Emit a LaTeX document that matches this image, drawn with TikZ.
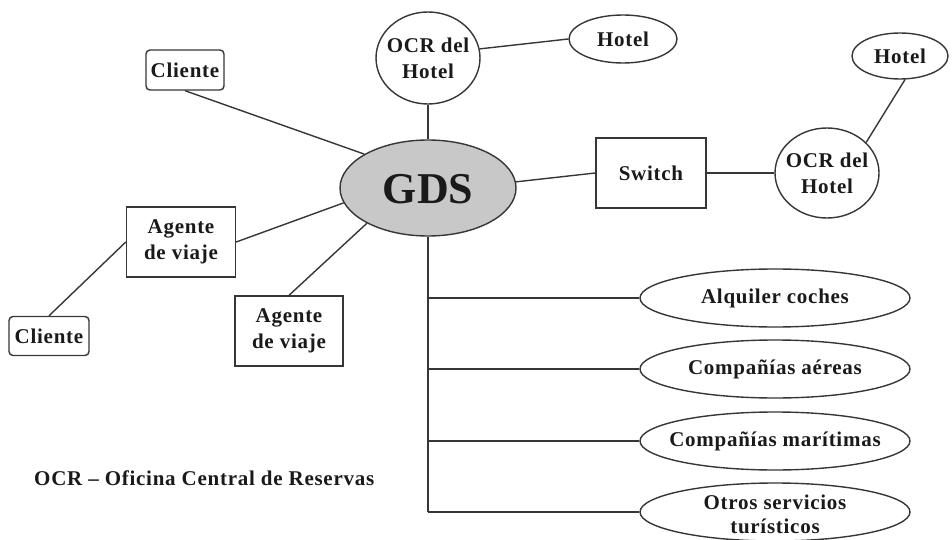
\documentclass[tikz,border=0pt]{standalone}
\usepackage{fontspec}
\setmainfont{Liberation Serif}
\newfontfamily\lblfont{Liberation Serif}[LetterSpace=3.5]
\usetikzlibrary{shapes.geometric,calc}
\definecolor{linec}{HTML}{363636}
\definecolor{gdsfill}{HTML}{C8C8C8}
\definecolor{textc}{HTML}{1A1A1A}
\begin{document}
\begin{tikzpicture}[x=1pt,y=-1pt,
  every node/.style={text=textc},
  lbl/.style={font=\lblfont\bfseries\fontsize{21}{26}\selectfont, align=center, inner sep=0pt},
  boxnode/.style={lbl, draw=linec, line width=1.4pt, rectangle},
  rbox/.style={boxnode, rounded corners=4pt},
  ell/.style={draw=linec, line width=1.4pt, ellipse, inner sep=0pt},
  conn/.style={draw=linec, line width=1.4pt}]
\useasboundingbox (0,0) rectangle (952,540);
\clip (0,0) rectangle (952,540);

\node[ell, fill=gdsfill, minimum width=176pt, minimum height=96pt] (gds) at (428,188) {};
\node[lbl, font=\bfseries\fontsize{44}{48}\selectfont] (gdst) at (428,189) {GDS};

\node[rbox, minimum width=78pt, minimum height=40pt] (cli1) at (185,70) {Cliente};
\node[ell, minimum width=104pt, minimum height=92pt] (ocr1) at (428,58) {};
\node[lbl] (ocr1t) at (ocr1) {OCR del\\Hotel};
\node[ell, minimum width=108pt, minimum height=48pt] (hot1) at (623,39) {};
\node[lbl] (hot1t) at (hot1) {Hotel};

\node[boxnode, minimum width=110pt, minimum height=70pt] (sw) at (651,173) {Switch};
\node[ell, minimum width=104pt, minimum height=90pt] (ocr2) at (827,173) {};
\node[lbl] (ocr2t) at (ocr2) {OCR del\\Hotel};
\node[ell, minimum width=96pt, minimum height=46pt] (hot2) at (900,56) {};
\node[lbl] (hot2t) at (hot2) {Hotel};

\node[boxnode, minimum width=109pt, minimum height=70pt] (ag1) at (181,242) {Agente\\de viaje};
\node[rbox, minimum width=80pt, minimum height=39pt] (cli2) at (49,336) {Cliente};
\node[boxnode, minimum width=108pt, minimum height=70pt] (ag2) at (289,331) {Agente\\de viaje};

\node[ell, minimum width=270pt, minimum height=58pt] (s1) at (775,298) {};
\node[lbl] (s1t) at (s1) {Alquiler coches};
\node[ell, minimum width=270pt, minimum height=58pt] (s2) at (775,369) {};
\node[lbl] (s2t) at (s2) {Compañías aéreas};
\node[ell, minimum width=270pt, minimum height=58pt] (s3) at (775,441) {};
\node[lbl] (s3t) at (s3) {Compañías marítimas};
\node[ell, minimum width=270pt, minimum height=58pt] (s4) at (775,512) {};
\node[lbl, font=\lblfont\bfseries\fontsize{21}{24}\selectfont] (s4t) at (775,514) {Otros servicios\\turísticos};

\node[lbl, anchor=west] (leg) at (34,478) {OCR – Oficina Central de Reservas};

\coordinate (t1) at (428,298);
\coordinate (t2) at (428,369);
\coordinate (t3) at (428,441);
\coordinate (t4) at (428,512);

\draw[conn] (cli1.south) -- (gds.152);
\draw[conn] (ocr1.south) -- (gds.north);
\draw[conn] (ocr1.10) -- (hot1.west);
\draw[conn] (gds.4) -- (sw.west);
\draw[conn] (sw.east) -- (ocr2.west);
\draw[conn] (ocr2.38) -- (hot2.-78);
\draw[conn] (ag1.east) -- (gds.190);
\draw[conn] (ag2.north) -- (gds.210);
\draw[conn] (cli2.north) -- (ag1.west);
\draw[conn] (gds.south) -- (t4);
\draw[conn] (t1) -- (s1.west);
\draw[conn] (t2) -- (s2.west);
\draw[conn] (t3) -- (s3.west);
\draw[conn] (t4) -- (s4.west);
\end{tikzpicture}
\end{document}
